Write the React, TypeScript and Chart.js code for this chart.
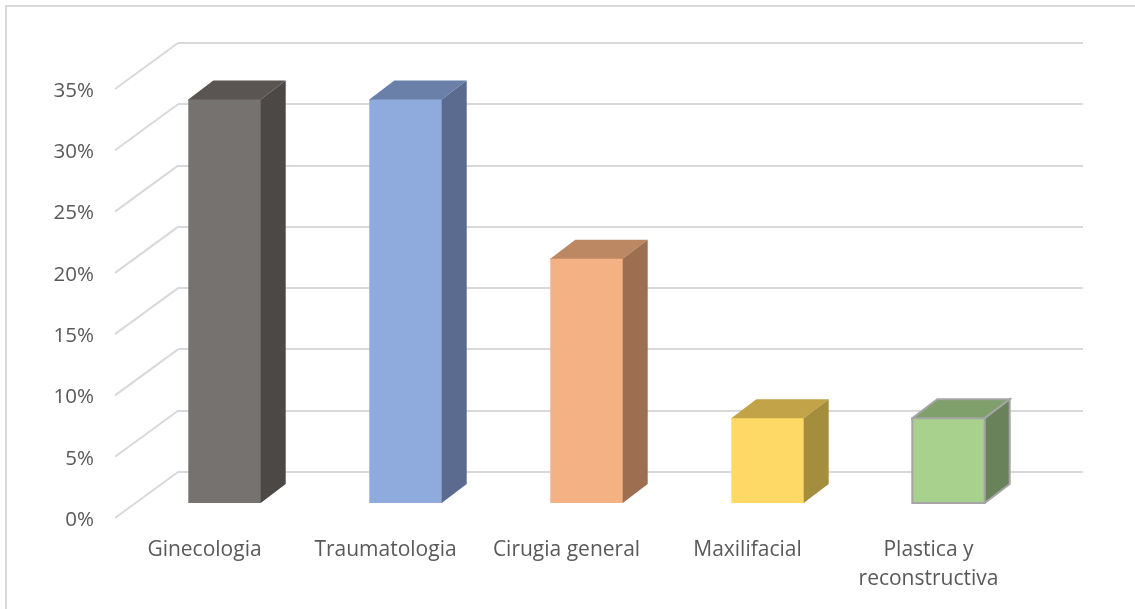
import { useEffect, useRef } from "react";
import { Chart, registerables } from "chart.js";

Chart.register(...registerables);

const categories = ["Ginecologia", "Traumatologia", "Cirugia general", "Maxilifacial", ["Plastica y", "reconstructiva"]];
const shares = [33, 33, 20, 7, 7];
const frontColors = ["#767270", "#8faadc", "#f4b183", "#ffd966", "#a9d18e"];
const topColors = ["#5a5553", "#6b80a8", "#bc8763", "#c2a348", "#7f9f6b"];
const sideColors = ["#4c4846", "#5b6b8f", "#9c6f50", "#a58d3e", "#6a8259"];
const edgeColors = ["#767270", "#8faadc", "#f4b183", "#ffd966", "#a5a5a5"];
const edgeWidths = [0, 0, 0, 0, 2];

// Oblique projection: floor depth, bar placement on the floor, and bar depth.
const FLOOR_DX = -63;
const FLOOR_DY = 46;
const BAR_DX = -44;
const BAR_DY = 32;
const DEPTH_DX = 25;
const DEPTH_DY = -19;

const extrusion = {
  id: "extrusion",
  beforeDatasetsDraw(chart: any) {
    const { ctx, chartArea, scales } = chart;
    // Floor and side-wall segments of each gridline.
    ctx.save();
    ctx.strokeStyle = "#d9d9d9";
    ctx.lineWidth = 2;
    for (const tick of scales.y.ticks) {
      const y = scales.y.getPixelForValue(tick.value);
      ctx.beginPath();
      ctx.moveTo(chartArea.left, y);
      ctx.lineTo(chartArea.left + FLOOR_DX, y + FLOOR_DY);
      ctx.stroke();
    }
    ctx.restore();
  },
  beforeDatasetDraw(chart: any, args: any) {
    const { ctx } = chart;
    ctx.save();
    ctx.translate(BAR_DX, BAR_DY);
    args.meta.data.forEach((bar: any, i: number) => {
      const left = bar.x - bar.width / 2;
      const right = bar.x + bar.width / 2;
      const top = bar.y;
      const bottom = bar.base;
      const face = (points: number[][], fill: string) => {
        ctx.beginPath();
        points.forEach(([x, y], k) => (k ? ctx.lineTo(x, y) : ctx.moveTo(x, y)));
        ctx.closePath();
        ctx.fillStyle = fill;
        ctx.fill();
        if (edgeWidths[i]) {
          ctx.strokeStyle = edgeColors[i];
          ctx.lineWidth = edgeWidths[i];
          ctx.stroke();
        }
      };
      // The inner edges run one pixel under the front face to avoid a seam.
      face(
        [
          [left, top + 1],
          [right, top + 1],
          [right, top],
          [right + DEPTH_DX, top + DEPTH_DY],
          [left + DEPTH_DX, top + DEPTH_DY],
          [left, top],
        ],
        topColors[i]
      );
      face(
        [
          [right - 1, top],
          [right, top],
          [right + DEPTH_DX, top + DEPTH_DY],
          [right + DEPTH_DX, bottom + DEPTH_DY],
          [right, bottom],
          [right - 1, bottom],
        ],
        sideColors[i]
      );
    });
  },
  afterDatasetDraw(chart: any, args: any) {
    const { ctx } = chart;
    // Outlined bars carry their stroke centred on the front face's edge.
    args.meta.data.forEach((bar: any, i: number) => {
      if (!edgeWidths[i]) return;
      ctx.strokeStyle = edgeColors[i];
      ctx.lineWidth = edgeWidths[i];
      ctx.strokeRect(bar.x - bar.width / 2, bar.y, bar.width, bar.base - bar.y);
    });
    ctx.restore();
  },
};

export default function App() {
  const canvasRef = useRef<HTMLCanvasElement>(null);

  useEffect(() => {
    const chart = new Chart(canvasRef.current!, {
      type: "bar",
      data: {
        labels: categories as any,
        datasets: [
          {
            data: shares,
            backgroundColor: frontColors,
            borderWidth: 0,
            barPercentage: 0.4,
            categoryPercentage: 1,
            clip: false as any,
          },
        ],
      },
      options: {
        responsive: false,
        animation: false,
        layout: { padding: { top: 43, right: 52, left: 0, bottom: 0 } },
        plugins: { legend: { display: false }, tooltip: { enabled: false }, title: { display: false } },
        scales: {
          x: {
            grid: { display: false },
            border: { display: false },
            afterFit: (s: any) => {
              s.height = 137;
              s.paddingLeft = 0;
              s.paddingRight = 0;
            },
            ticks: {
              autoSkip: false,
              maxRotation: 0,
              minRotation: 0,
              padding: 56,
              labelOffset: -64,
              color: "#595959",
              font: { family: "'Open Sans'", size: 21, lineHeight: 1.38 },
            },
          },
          y: {
            min: 0,
            max: 35,
            grid: { color: "#d9d9d9", lineWidth: 2, drawTicks: false },
            border: { display: false },
            afterFit: (s: any) => {
              s.width = 178;
              s.paddingTop = 0;
              s.paddingBottom = 0;
            },
            ticks: {
              stepSize: 5,
              padding: 84,
              labelOffset: 48,
              color: "#595959",
              font: { family: "'Open Sans'", size: 20.5 },
              callback: (v: any) => `${v}%`,
            },
          },
        },
      },
      plugins: [extrusion],
    });
    return () => chart.destroy();
  }, []);

  return (
    <div style={{ position: "fixed", left: 0, top: 0, width: 1135, height: 609, background: "#fff" }}>
      <div
        style={{
          position: "absolute",
          left: 5,
          top: 5,
          width: 1130,
          height: 604,
          borderTop: "2px solid #d9d9d9",
          borderLeft: "2px solid #d9d9d9",
          boxSizing: "border-box",
        }}
      />
      <canvas ref={canvasRef} width={1135} height={609} style={{ position: "absolute", left: 0, top: 0 }} />
    </div>
  );
}
